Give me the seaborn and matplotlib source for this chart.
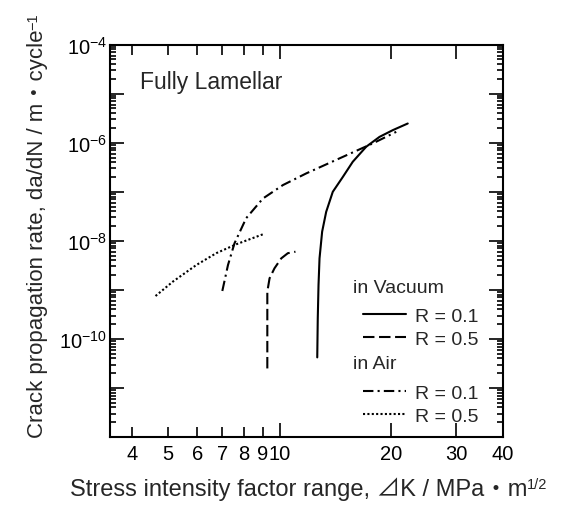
import numpy as np
import pandas as pd
import seaborn as sns
import matplotlib.pyplot as plt
from matplotlib.lines import Line2D
from matplotlib.ticker import FixedLocator, FuncFormatter, NullFormatter

# values (dK in MPa m^1/2, da/dN in m/cycle)
dk_vac_01 = [12.64, 12.68, 12.74, 12.82, 13.03, 13.36, 13.92, 14.81, 15.76, 17.13, 18.61, 20.21, 22.17]
rate_vac_01 = [4.2e-11, 2.6e-10, 1.26e-9, 4.4e-9, 1.54e-8, 3.9e-8, 1.0e-7, 2.0e-7, 4.1e-7, 8.3e-7, 1.32e-6, 1.81e-6, 2.47e-6]

dk_vac_05 = [9.27, 9.27, 9.27, 9.40, 9.69, 10.11, 10.53, 11.04]
rate_vac_05 = [2.5e-11, 1.65e-10, 9.2e-10, 1.72e-9, 2.75e-9, 4.4e-9, 5.6e-9, 6.0e-9]

dk_air_01 = [7.01, 7.26, 7.56, 8.13, 9.02, 10.21, 11.80, 14.51, 17.84, 20.64]
rate_air_01 = [9.5e-10, 3.2e-9, 8.9e-9, 2.9e-8, 7.3e-8, 1.37e-7, 2.37e-7, 4.8e-7, 9.7e-7, 1.67e-6]

dk_air_05 = [4.63, 5.16, 5.96, 6.75, 7.64, 9.02]
rate_air_05 = [7.5e-10, 1.48e-9, 3.2e-9, 5.6e-9, 8.5e-9, 1.36e-8]

series_names = ['vac_01', 'vac_05', 'air_01', 'air_05']
legend_labels = ['R = 0.1', 'R = 0.5', 'R = 0.1', 'R = 0.5']
x_ticks_major = [10, 20, 30, 40]
x_ticks_minor = [4, 5, 6, 7, 8, 9]
y_decades = list(range(-12, -3))
y_labelled = [-4, -6, -8, -10]

sns.set_style('ticks')
plt.rcParams['font.family'] = ['Liberation Sans', 'Noto Sans CJK JP', 'DejaVu Sans']
plt.rcParams['mathtext.fontset'] = 'custom'
plt.rcParams['mathtext.rm'] = 'Liberation Sans'
plt.rcParams['mathtext.it'] = 'Liberation Sans:italic'
plt.rcParams['mathtext.default'] = 'regular'
plt.rcParams['font.size'] = 14.5

df = pd.concat([
    pd.DataFrame({'dK': dk_vac_01, 'rate': rate_vac_01, 'series': 'vac_01'}),
    pd.DataFrame({'dK': dk_vac_05, 'rate': rate_vac_05, 'series': 'vac_05'}),
    pd.DataFrame({'dK': dk_air_01, 'rate': rate_air_01, 'series': 'air_01'}),
    pd.DataFrame({'dK': dk_air_05, 'rate': rate_air_05, 'series': 'air_05'}),
], ignore_index=True)

dash_styles = {'vac_01': '', 'vac_05': (5.5, 2.2), 'air_01': (5, 2, 1, 2), 'air_05': (1, 1.1)}
lw = 1.5

fig = plt.figure(figsize=(5.63, 5.10), dpi=100)
ax = fig.add_axes([0.1954, 0.1412, 0.6976, 0.7692])

sns.lineplot(data=df, x='dK', y='rate', style='series', style_order=series_names,
             dashes=dash_styles, color='black', linewidth=lw, sort=False,
             estimator=None, legend=False, ax=ax)

ax.set_xscale('log')
ax.set_yscale('log')
ax.set_xlim(3.49, 40)
ax.set_ylim(1e-12, 1e-4)

# x ticks: 10-40 long, 4-9 short, all labelled
ax.xaxis.set_major_locator(FixedLocator(x_ticks_major))
ax.xaxis.set_minor_locator(FixedLocator(x_ticks_minor))
ax.xaxis.set_major_formatter(FuncFormatter(lambda v, p: f'{v:g}'))
ax.xaxis.set_minor_formatter(FuncFormatter(lambda v, p: f'{v:g}'))

# y ticks: every decade, label every second one
ax.yaxis.set_major_locator(FixedLocator([10.0 ** e for e in y_decades]))
minor_y = [m * 10.0 ** e for e in y_decades[:-1] for m in range(2, 10)]
ax.yaxis.set_minor_locator(FixedLocator(minor_y))
ax.yaxis.set_major_formatter(FuncFormatter(
    lambda v, p: f'$10^{{{int(round(np.log10(v)))}}}$' if int(round(np.log10(v))) in y_labelled else ''))
ax.yaxis.set_minor_formatter(NullFormatter())

ax.tick_params(which='both', direction='in', top=True, right=True, width=1.2, colors='black', labelsize=14.5)
ax.tick_params(axis='x', which='major', length=10, pad=5)
ax.tick_params(axis='x', which='minor', length=7, pad=5)
ax.tick_params(axis='y', which='major', length=10, pad=2)
ax.tick_params(axis='y', which='minor', length=4)
for s in ax.spines.values():
    s.set_linewidth(1.5)
    s.set_color('black')

# axis labels, superscripts hung on the label text
ax.set_xlabel('Stress intensity factor range, ⊿K / MPa・m', fontsize=17)
ax.xaxis.set_label_coords(0.48, -0.1)
ax.annotate('1/2', xy=(1.0, 0.97), xycoords=ax.xaxis.label, ha='left', va='top', fontsize=10.5)

ax.set_ylabel('Crack propagation rate, da/dN / m・cycle', fontsize=16)
ax.yaxis.set_label_coords(-0.157, 0.52)
ax.annotate('\u22121', xy=(-0.06, 1.0), xycoords=ax.yaxis.label, rotation=90,
            ha='left', va='bottom', fontsize=10.5)

ax.text(0.077, 0.8896, 'Fully Lamellar', transform=ax.transAxes, fontsize=16.5, va='baseline', ha='left')
ax.text(0.619, 0.3688, 'in Vacuum', transform=ax.transAxes, fontsize=14, va='baseline', ha='left')
ax.text(0.619, 0.1751, 'in Air', transform=ax.transAxes, fontsize=14, va='baseline', ha='left')

handles = [Line2D([], [], color='black', lw=lw, linestyle=(0, dash_styles[n]) if dash_styles[n] else '-')
           for n in series_names]
leg_kw = dict(frameon=False, loc='upper left', handlelength=2.23, handletextpad=0.43,
              labelspacing=0.25, borderpad=0, borderaxespad=0, fontsize=14)
leg1 = ax.legend(handles[:2], legend_labels[:2], bbox_to_anchor=(0.644, 0.330), **leg_kw)
ax.add_artist(leg1)
ax.legend(handles[2:], legend_labels[2:], bbox_to_anchor=(0.644, 0.134), **leg_kw)

fig.savefig('out.png', dpi=100, facecolor='white')
